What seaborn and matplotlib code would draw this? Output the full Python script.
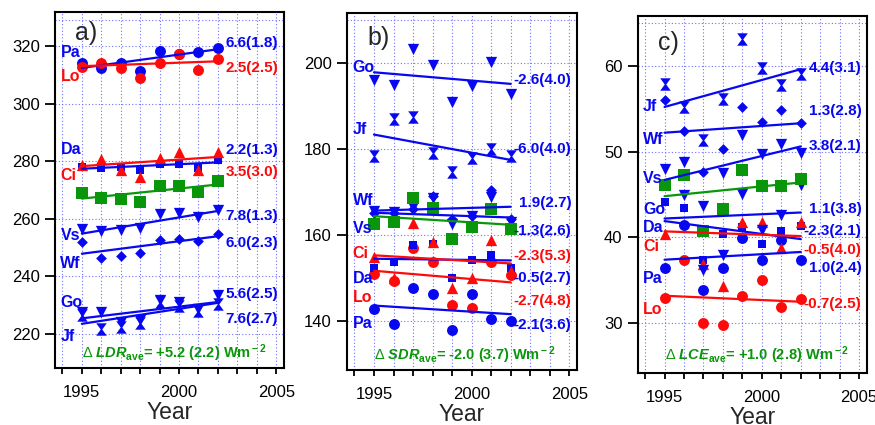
import matplotlib
matplotlib.use("Agg")
import matplotlib.pyplot as plt
from matplotlib.path import Path
from matplotlib.ticker import MultipleLocator
import pandas as pd
import seaborn as sns

# -----------------------------
# data
# -----------------------------
years = [1995, 1996, 1997, 1998, 1999, 2000, 2001, 2002]
stations = ["Pa", "Lo", "Da", "Ci", "Vs", "Wf", "Go", "Jf", "ave"]

# a) LDR
ldr_pa = [314.3, 312.5, 314.1, 311.5, 318.5, 317.2, 318.0, 319.4]
ldr_lo = [312.8, 314.3, 312.5, 308.9, 314.3, 317.5, 311.7, 315.7]
ldr_da = [278.0, 277.7, 278.0, 277.1, 279.2, 279.2, 277.7, 280.5]
ldr_ci = [278.8, 280.8, 276.9, 274.6, 281.2, 283.1, 276.9, 283.1]
ldr_vs = [256.5, 255.7, 255.9, 256.9, 261.5, 262.0, 260.6, 262.9]
ldr_wf = [251.9, 246.3, 247.0, 248.1, 252.7, 253.0, 252.2, 254.8]
ldr_go = [227.5, 227.5, 224.0, 224.8, 231.8, 231.0, 228.7, 233.6]
ldr_jf = [226.3, 221.7, 222.3, 223.7, 231.0, 229.5, 227.8, 230.2]
ldr_ave = [268.8, 267.1, 266.7, 265.9, 271.3, 271.3, 269.4, 273.1]
ldr_trend_1995 = [312.5, 313.1, 277.4, 278.3, 254.8, 247.8, 225.3, 223.4, 267.0]
ldr_trend_2002 = [319.0, 314.8, 279.6, 281.5, 262.7, 253.9, 231.0, 230.7, 271.9]
ldr_trend_text = ["6.6(1.8)", "2.5(2.5)", "2.2(1.3)", "3.5(3.0)", "7.8(1.3)",
                  "6.0(2.3)", "5.6(2.5)", "7.6(2.7)"]

# b) SDR
sdr_pa = [142.7, 139.2, 147.5, 146.1, 137.8, 146.1, 140.4, 139.8]
sdr_lo = [150.9, 149.2, 156.9, 153.6, 143.6, 143.0, 153.6, 150.6]
sdr_da = [152.2, 153.7, 157.5, 157.9, 150.0, 154.0, 155.3, 152.3]
sdr_ci = [154.9, 149.8, 162.8, 158.3, 147.5, 149.8, 158.7, 151.5]
sdr_vs = [165.5, 165.3, 166.4, 168.5, 162.6, 164.3, 168.8, 163.0]
sdr_wf = [165.0, 165.0, 166.0, 168.9, 163.7, 164.3, 170.3, 163.7]
sdr_go = [196.0, 194.9, 203.3, 199.4, 191.0, 194.7, 200.3, 192.7]
sdr_jf = [178.4, 186.9, 187.5, 179.0, 174.7, 177.8, 179.9, 178.2]
sdr_ave = [162.6, 162.9, 168.5, 166.3, 158.9, 161.8, 165.9, 161.4]
sdr_trend_1995 = [143.5, 151.6, 154.4, 155.2, 165.1, 165.6, 197.8, 183.3, 164.3]
sdr_trend_2002 = [141.5, 148.9, 154.0, 153.3, 164.0, 166.5, 195.1, 177.4, 162.3]
sdr_trend_text = ["-2.1(3.6)", "-2.7(4.8)", "-0.5(2.7)", "-2.3(5.3)", "-1.3(2.6)",
                  "1.9(2.7)", "-2.6(4.0)", "-6.0(4.0)"]

# c) LCE
lce_pa = [36.4, 41.4, 33.9, 36.4, 39.9, 37.4, 39.7, 37.4]
lce_lo = [32.9, 37.4, 30.0, 29.8, 33.2, 35.0, 31.9, 32.8]
lce_da = [44.1, 43.4, 37.4, 40.4, 41.2, 39.2, 40.7, 41.3]
lce_ci = [40.4, None, 36.9, 34.3, 41.8, 41.8, 38.8, 41.8]
lce_vs = [48.0, 48.8, 43.6, 47.5, 51.9, 49.7, 50.9, 49.8]
lce_wf = [56.0, 52.4, 47.6, 50.3, 55.2, 53.5, 54.8, 53.3]
lce_go = [None, 44.9, 36.2, 37.9, 45.0, 40.9, 42.6, 46.1]
lce_jf = [57.9, 55.2, 51.4, 56.1, 63.1, 59.7, 57.8, 59.0]
lce_ave = [46.1, 47.3, 40.7, 43.3, 47.9, 46.0, 46.0, 46.8]
lce_trend_1995 = [37.4, 33.2, 41.9, 40.7, 46.7, 52.2, 42.2, 55.2, 44.8]
lce_trend_2002 = [38.3, 32.5, 39.8, 40.15, 50.6, 53.3, 42.9, 59.6, 46.4]
lce_trend_text = ["1.0(2.4)", "-0.7(2.5)", "-2.3(2.1)", "-0.5(4.0)", "3.8(2.1)",
                  "1.3(2.8)", "1.1(3.8)", "4.4(3.1)"]

# -----------------------------
# styles and layout
# -----------------------------
BLUE = "#0808f0"
RED = "#ff0a0a"
GREEN = "#0a960a"
GRID = "#7070ff"

# hourglass marker (two stacked triangles)
hourglass = Path([(-0.85, 1), (0.85, 1), (0.12, 0), (0.85, -1), (-0.85, -1),
                  (-0.12, 0), (-0.85, 1)],
                 [Path.MOVETO] + [Path.LINETO] * 5 + [Path.CLOSEPOLY])

style = {
    "Pa": ("o", BLUE, 62),
    "Lo": ("o", RED, 62),
    "Da": ("s", BLUE, 36),
    "Ci": ("^", RED, 66),
    "Vs": ("v", BLUE, 66),
    "Wf": ("D", BLUE, 30),
    "Go": ("v", BLUE, 66),
    "Jf": (hourglass, BLUE, 80),
    "ave": ("s", GREEN, 72),
}

sns.set_theme(style="white")
plt.rcParams["font.family"] = ["Liberation Sans", "DejaVu Sans"]
plt.rcParams["mathtext.fontset"] = "custom"
plt.rcParams["mathtext.rm"] = "Liberation Sans:bold"
plt.rcParams["mathtext.it"] = "Liberation Sans:italic:bold"
plt.rcParams["mathtext.bf"] = "Liberation Sans:bold"
plt.rcParams["mathtext.sf"] = "Liberation Sans"

panels = [
    dict(vals=[ldr_pa, ldr_lo, ldr_da, ldr_ci, ldr_vs, ldr_wf, ldr_go, ldr_jf, ldr_ave],
         t0=ldr_trend_1995, t1=ldr_trend_2002, ttext=ldr_trend_text,
         name_y=[317.9, 309.6, 284.0, 275.0, 254.2, 244.4, 230.9, 219.0],
         text_y=[321.0, 312.4, 284.0, 276.2, 261.1, 251.6, 233.8, 225.2],
         letter="a)", letter_y=324.7,
         ave=r"$\mathsf{\Delta}$ $LDR_{\rm ave}$= +5.2 (2.2) Wm$^{\rm -2}$", ave_y=213.2,
         ylim=(208, 332), ystep=20, top=0.976,
         rect=[0.0629, 0.134, 0.2617, 0.838]),
    dict(vals=[sdr_pa, sdr_lo, sdr_da, sdr_ci, sdr_vs, sdr_wf, sdr_go, sdr_jf, sdr_ave],
         t0=sdr_trend_1995, t1=sdr_trend_2002, ttext=sdr_trend_text,
         name_y=[139.3, 145.4, 149.8, 155.7, 161.4, 167.9, 198.9, 184.4],
         text_y=[138.9, 144.5, 149.8, 155.1, 160.8, 167.4, 196.0, 180.0],
         letter="b)", letter_y=205.8,
         ave=r"$\mathsf{\Delta}$ $SDR_{\rm ave}$= -2.0 (3.7) Wm$^{\rm -2}$", ave_y=132.0,
         ylim=(128.5, 211.6), ystep=20, top=0.981,
         rect=[0.3966, 0.1294, 0.263, 0.840]),
    dict(vals=[lce_pa, lce_lo, lce_da, lce_ci, lce_vs, lce_wf, lce_go, lce_jf, lce_ave],
         t0=lce_trend_1995, t1=lce_trend_2002, ttext=lce_trend_text,
         name_y=[35.2, 31.6, 41.1, 38.9, 46.9, 51.4, 43.3, 55.2],
         text_y=[36.4, 32.2, 40.7, 38.5, 50.7, 54.7, 43.3, 59.7],
         letter="c)", letter_y=62.7,
         ave=r"$\mathsf{\Delta}$ $LCE_{\rm ave}$= +1.0 (2.8) Wm$^{\rm -2}$", ave_y=26.3,
         ylim=(24.2, 65.8), ystep=10, top=0.981,
         rect=[0.7288, 0.1224, 0.262, 0.840]),
]

fig = plt.figure(figsize=(8.75, 4.25), dpi=100)

for p in panels:
    ax = fig.add_axes(p["rect"])

    # markers
    for st, v in zip(stations, p["vals"]):
        m, c, s = style[st]
        df = pd.DataFrame({"Year": years, "value": v}).dropna()
        sns.scatterplot(data=df, x="Year", y="value", marker=m, color=c, s=s,
                        linewidth=0, legend=False, ax=ax, zorder=3)

    # trend lines
    for st, a, b in zip(stations, p["t0"], p["t1"]):
        c = style[st][1]
        sns.lineplot(x=[years[0], years[-1]], y=[a, b], color=c, lw=1.6,
                     legend=False, ax=ax, zorder=4)

    # station names and trend numbers
    for st, ny, ty, txt in zip(stations[:-1], p["name_y"], p["text_y"], p["ttext"]):
        c = style[st][1]
        ax.text(1993.9, ny, st, color=c, fontsize=11.5, fontweight="bold",
                ha="left", va="center", zorder=5)
        tx = 2002.15 if txt.startswith("-") else 2002.4
        ax.text(tx, ty, txt, color=c, fontsize=11, fontweight="bold",
                ha="left", va="center", zorder=5)

    ax.text(1994.65, p["letter_y"], p["letter"], fontsize=18, ha="left", va="center")
    ax.text(1995.0, p["ave_y"], p["ave"], color=GREEN, fontsize=10.5,
            fontweight="bold", ha="left", va="center")

    ax.set_xlim(1993.62, 2005.4)
    ax.set_ylim(*p["ylim"])
    ax.xaxis.set_major_locator(MultipleLocator(5))
    ax.xaxis.set_minor_locator(MultipleLocator(1))
    ax.yaxis.set_major_locator(MultipleLocator(p["ystep"]))

    ax.grid(True, axis="x", which="both", color=GRID, linestyle=(0, (1, 2)), lw=0.8)
    ax.grid(True, axis="y", which="major", color=GRID, linestyle=(0, (1, 2)), lw=0.8)
    ax.plot([0, 1], [p["top"], p["top"]], transform=ax.transAxes, color=GRID,
            linestyle=(0, (1, 2)), lw=0.8)
    ax.set_axisbelow(True)

    for sp in ax.spines.values():
        sp.set_color("black")
        sp.set_linewidth(1.5)

    ax.tick_params(axis="y", which="major", direction="out", length=7, width=1.3,
                   labelsize=12, pad=4, left=True, colors="black")
    ax.tick_params(axis="x", which="both", direction="out", length=4, width=1.3,
                   labelsize=12, pad=8, bottom=True, colors="black")
    ax.set_xlabel("Year", fontsize=16.5, labelpad=1)
    ax.set_ylabel("")

fig.savefig("out.png", dpi=100)
